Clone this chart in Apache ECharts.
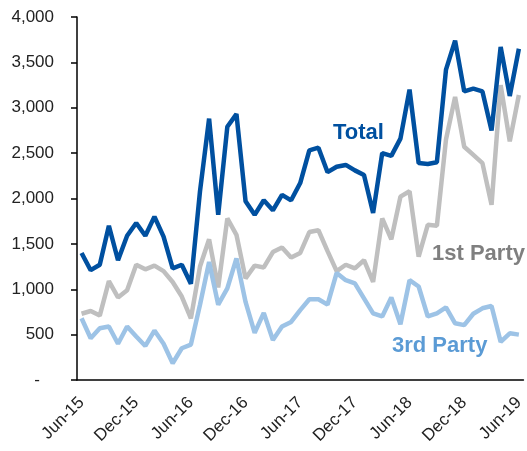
<!DOCTYPE html>
<html>
<head>
<meta charset="utf-8">
<script src="https://cdn.jsdelivr.net/npm/echarts@6/dist/echarts.min.js"></script>
<style>
  html, body { margin: 0; padding: 0; background: #fff; }
  #chart { width: 527px; height: 451px; }
</style>
</head>
<body>
<div id="chart"></div>
<script>
const months = [
  "Jun-15", "Jul-15", "Aug-15", "Sep-15", "Oct-15", "Nov-15", "Dec-15",
  "Jan-16", "Feb-16", "Mar-16", "Apr-16", "May-16", "Jun-16",
  "Jul-16", "Aug-16", "Sep-16", "Oct-16", "Nov-16", "Dec-16",
  "Jan-17", "Feb-17", "Mar-17", "Apr-17", "May-17", "Jun-17",
  "Jul-17", "Aug-17", "Sep-17", "Oct-17", "Nov-17", "Dec-17",
  "Jan-18", "Feb-18", "Mar-18", "Apr-18", "May-18", "Jun-18",
  "Jul-18", "Aug-18", "Sep-18", "Oct-18", "Nov-18", "Dec-18",
  "Jan-19", "Feb-19", "Mar-19", "Apr-19", "May-19", "Jun-19"
];

const total = [
  1400, 1210, 1270, 1700, 1320, 1590, 1730, 1590, 1800, 1580,
  1230, 1270, 1060, 2080, 2880, 1820, 2790, 2930, 1970, 1820,
  1980, 1870, 2040, 1980, 2170, 2530, 2560, 2290, 2350, 2370,
  2310, 2260, 1840, 2500, 2470, 2660, 3200, 2390, 2380, 2400,
  3420, 3740, 3180, 3210, 3180, 2750, 3670, 3130, 3650
];

const firstParty = [
  730, 760, 710, 1090, 910, 990, 1270, 1220, 1260, 1200,
  1080, 920, 680, 1250, 1550, 1020, 1780, 1600, 1120, 1260,
  1240, 1410, 1460, 1350, 1400, 1630, 1650, 1420, 1200, 1270,
  1230, 1320, 1080, 1780, 1550, 2020, 2080, 1360, 1710, 1700,
  2650, 3120, 2570, 2480, 2390, 1930, 3250, 2630, 3140
];

const thirdParty = [
  680, 460, 570, 590, 400, 590, 480, 375, 545, 400,
  185, 350, 390, 830, 1300, 830, 1010, 1340, 860, 520,
  740, 440, 590, 640, 770, 890, 890, 830, 1180, 1100,
  1065, 900, 735, 700, 910, 615, 1100, 1030, 700, 735,
  800, 625, 605, 730, 790, 815, 420, 515, 500
];

const yTicks = [0, 500, 1000, 1500, 2000, 2500, 3000, 3500, 4000];

const chartDom = document.getElementById("chart");
const myChart = echarts.init(chartDom);

const labelFont = "Liberation Sans, Arial, sans-serif";

const option = {
  animation: false,
  grid: {
    left: 77,
    right: 3,
    top: 17,
    bottom: 71,
  },
  xAxis: {
    type: "category",
    data: months,
    boundaryGap: true,
    axisLine: { lineStyle: { color: "#000", width: 1.5 } },
    axisTick: {
      interval: 5,
      length: 6,
      lineStyle: { color: "#000", width: 1.5 },
    },
    axisLabel: {
      interval: 5,
      rotate: 45,
      margin: 20,
      color: "#222",
      fontSize: 17,
      fontFamily: labelFont,
    },
    splitLine: { show: false },
  },
  yAxis: {
    type: "value",
    min: yTicks[0],
    max: yTicks[yTicks.length - 1],
    interval: 500,
    axisLine: { show: true, lineStyle: { color: "#000", width: 1.5 } },
    axisTick: { show: true, length: 6, lineStyle: { color: "#000", width: 1.5 } },
    axisLabel: {
      margin: 23,
      color: "#222",
      fontSize: 17,
      fontFamily: labelFont,
      formatter: function (v) {
        if (v === 0) return "-   ";
        return v.toLocaleString("en-US");
      },
    },
    splitLine: { show: false },
  },
  series: [
    {
      name: "1st Party",
      type: "line",
      data: firstParty,
      symbol: "none",
      lineStyle: { color: "#BFBFBF", width: 4.5 },
      z: 2,
    },
    {
      name: "3rd Party",
      type: "line",
      data: thirdParty,
      symbol: "none",
      lineStyle: { color: "#9DC3E6", width: 4.5 },
      z: 3,
    },
    {
      name: "Total",
      type: "line",
      data: total,
      symbol: "none",
      lineStyle: { color: "#0050A0", width: 4.5 },
      z: 4,
    },
  ],
  graphic: [
    {
      type: "text",
      left: 333,
      top: 122,
      style: {
        text: "Total",
        fill: "#0050A0",
        font: "bold 22px " + labelFont,
      },
    },
    {
      type: "text",
      left: 432,
      top: 243,
      style: {
        text: "1st Party",
        fill: "#7F7F7F",
        font: "bold 22px " + labelFont,
      },
    },
    {
      type: "text",
      left: 392,
      top: 335,
      style: {
        text: "3rd Party",
        fill: "#5B9BD5",
        font: "bold 22px " + labelFont,
      },
    },
  ],
};

myChart.setOption(option);
window.addEventListener("resize", () => {
  myChart.resize();
});
</script>
</body>
</html>
